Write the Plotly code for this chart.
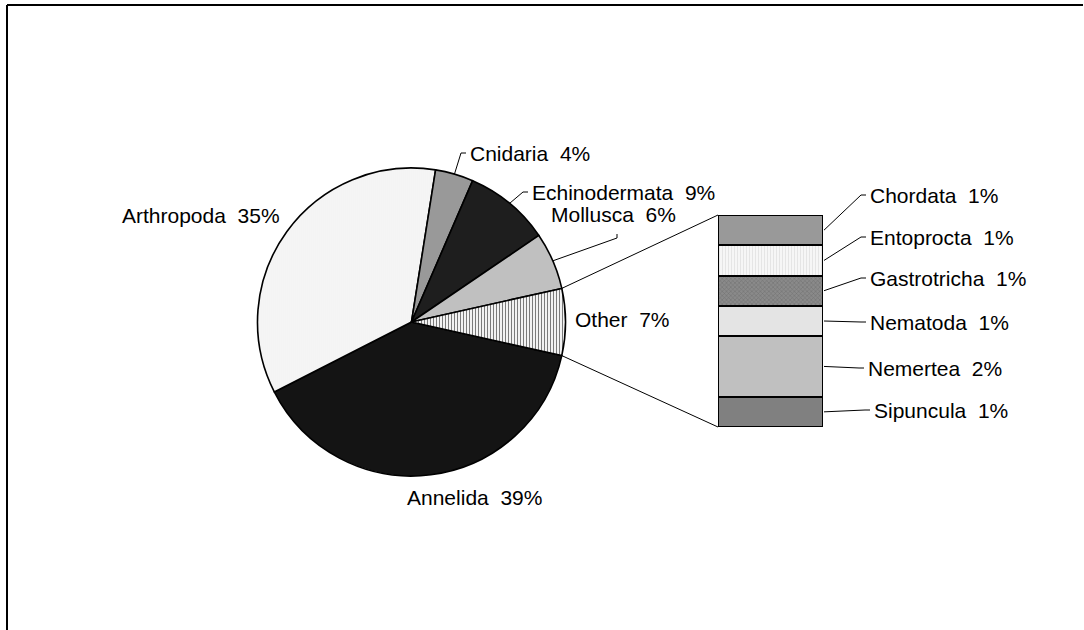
import math
import plotly.graph_objects as go

# ---- data -------------------------------------------------------------
pie_labels = ["Annelida", "Arthropoda", "Cnidaria", "Echinodermata", "Mollusca", "Other"]
pie_values = [39, 35, 4, 9, 6, 7]

# breakdown of "Other", listed top to bottom
bar_labels = ["Chordata", "Entoprocta", "Gastrotricha", "Nematoda", "Nemertea", "Sipuncula"]
bar_values = [1, 1, 1, 1, 2, 1]

# ---- layout constants (pixels) -----------------------------------------
W, H = 1084, 630
CX, CY, R = 411.5, 322.0, 154.0          # pie centre / radius
BX0, BX1, BTOP, BBOT = 718, 823, 215, 427  # stacked bar box
FONT = dict(family="Liberation Sans, Arial, sans-serif", size=21, color="black")

pie_colors = ["#141414", "#ffffff", "#999999", "#1e1e1e", "#c0c0c0", "#ffffff"]
pie_pat_shape = ["", "|", "", "", "", "|"]
pie_pat_fg = ["#000000", "#e4e4e4", "#000000", "#000000", "#000000", "#7a7a7a"]
pie_pat_size = [3, 2, 3, 3, 3, 3]

bar_colors = {"Chordata": "#999999", "Entoprocta": "#f6f6f6", "Gastrotricha": "#8a8a8a",
              "Nematoda": "#e4e4e4", "Nemertea": "#c0c0c0", "Sipuncula": "#808080"}
bar_pat = {"Entoprocta": ("|", "#d4d4d4"), "Gastrotricha": ("x", "#5a5a5a")}

# label placement: (left x, centre y, leader?)
pie_label_pos = {
    "Annelida": (405, 497, False),
    "Arthropoda": (120, 215, False),
    "Cnidaria": (468, 153, True),
    "Echinodermata": (530, 192, True),
    "Mollusca": (549, 214, True),
    "Other": (573, 319, False),
}
bar_label_pos = {
    "Chordata": (868, 195), "Entoprocta": (868, 237), "Gastrotricha": (868, 278),
    "Nematoda": (868, 322), "Nemertea": (866, 368), "Sipuncula": (872, 410),
}


def px(x):
    return x / W


def py(y):
    return 1 - y / H


def on_circle(deg):
    a = math.radians(deg)
    return CX + R * math.sin(a), CY - R * math.cos(a)


total = sum(pie_values)
other_deg = pie_values[-1] / total * 360
rotation = 90 + other_deg / 2  # centre "Other" on the 3 o'clock axis

fig = go.Figure()

fig.add_trace(go.Pie(
    labels=pie_labels, values=pie_values, sort=False, direction="clockwise",
    rotation=rotation, textinfo="none", showlegend=False,
    domain=dict(x=[px(CX - R), px(CX + R)], y=[py(CY + R), py(CY - R)]),
    marker=dict(colors=pie_colors, line=dict(color="black", width=1.6),
                pattern=dict(shape=pie_pat_shape, fgcolor=pie_pat_fg, size=pie_pat_size,
                             solidity=0.4)),
))

# stacked bar, bottom segment first
for lab, val in zip(reversed(bar_labels), reversed(bar_values)):
    pat = bar_pat.get(lab)
    marker = dict(color=bar_colors[lab], line=dict(color="black", width=2))
    if pat:
        marker["pattern"] = dict(shape=pat[0], fgcolor=pat[1], bgcolor=bar_colors[lab],
                                 size=3, solidity=0.35)
    fig.add_trace(go.Bar(x=[0], y=[val], width=1, marker=marker, showlegend=False,
                         name=lab, xaxis="x", yaxis="y"))

bar_total = sum(bar_values)

shapes = []
annotations = []

# outer frame: only the left and top edges fall inside the page
frame = dict(color="black", width=2)
shapes.append(dict(type="line", xref="paper", yref="paper", x0=px(7), y0=py(5),
                   x1=px(7), y1=0, line=frame))
shapes.append(dict(type="line", xref="paper", yref="paper", x0=px(7), y0=py(5),
                   x1=px(W - 1), y1=py(5), line=frame))

# slice boundary angles
angles = []
acc = rotation
for v in pie_values:
    a0 = acc
    acc += v / total * 360
    angles.append((a0, acc))

# connectors from the "Other" slice to the bar
o0, o1 = angles[-1]
top_x, top_y = on_circle(o0)
bot_x, bot_y = on_circle(o1)
shapes.append(dict(type="line", xref="paper", yref="paper", x0=px(top_x), y0=py(top_y),
                   x1=px(BX0), y1=py(BTOP), line=dict(color="black", width=1)))
shapes.append(dict(type="line", xref="paper", yref="paper", x0=px(bot_x), y0=py(bot_y),
                   x1=px(BX0), y1=py(BBOT), line=dict(color="black", width=1)))

# pie labels and leaders
for lab, v, (a0, a1) in zip(pie_labels, pie_values, angles):
    x, y, leader = pie_label_pos[lab]
    annotations.append(dict(x=px(x), y=py(y), xref="paper", yref="paper", text=f"{lab}  {v}%",
                            showarrow=False, xanchor="left", yanchor="middle", font=FONT))
    if leader:
        sx, sy = on_circle((a0 + a1) / 2)
        if lab == "Mollusca":
            ex, ey = x + 68, y + 24
            path = f"M{px(sx)},{py(sy)} L{px(ex)},{py(ey)} L{px(ex)},{py(ey - 4)}"
        else:
            ex, ey = x - 7, y
            path = f"M{px(sx)},{py(sy)} L{px(ex)},{py(ey)} L{px(x - 2)},{py(ey)}"
        shapes.append(dict(type="path", xref="paper", yref="paper", path=path,
                           line=dict(color="black", width=1)))

# bar labels and leaders
unit = (BBOT - BTOP) / bar_total
cum = 0
for lab, v in zip(bar_labels, bar_values):
    mid = BTOP + (cum + v / 2) * unit
    cum += v
    x, y = bar_label_pos[lab]
    annotations.append(dict(x=px(x), y=py(y), xref="paper", yref="paper", text=f"{lab}  {v}%",
                            showarrow=False, xanchor="left", yanchor="middle", font=FONT))
    path = f"M{px(BX1 + 1)},{py(mid)} L{px(x - 7)},{py(y)} L{px(x - 2)},{py(y)}"
    shapes.append(dict(type="path", xref="paper", yref="paper", path=path,
                       line=dict(color="black", width=1)))

fig.update_layout(
    width=W, height=H, margin=dict(l=0, r=0, t=0, b=0),
    paper_bgcolor="white", plot_bgcolor="white", barmode="stack", bargap=0,
    xaxis=dict(domain=[px(BX0), px(BX1)], range=[-0.5, 0.5], visible=False, fixedrange=True),
    yaxis=dict(domain=[py(BBOT), py(BTOP)], range=[0, bar_total], visible=False, fixedrange=True),
    shapes=shapes, annotations=annotations, font=FONT,
)

fig.write_html("out.html", config={"displayModeBar": False})
